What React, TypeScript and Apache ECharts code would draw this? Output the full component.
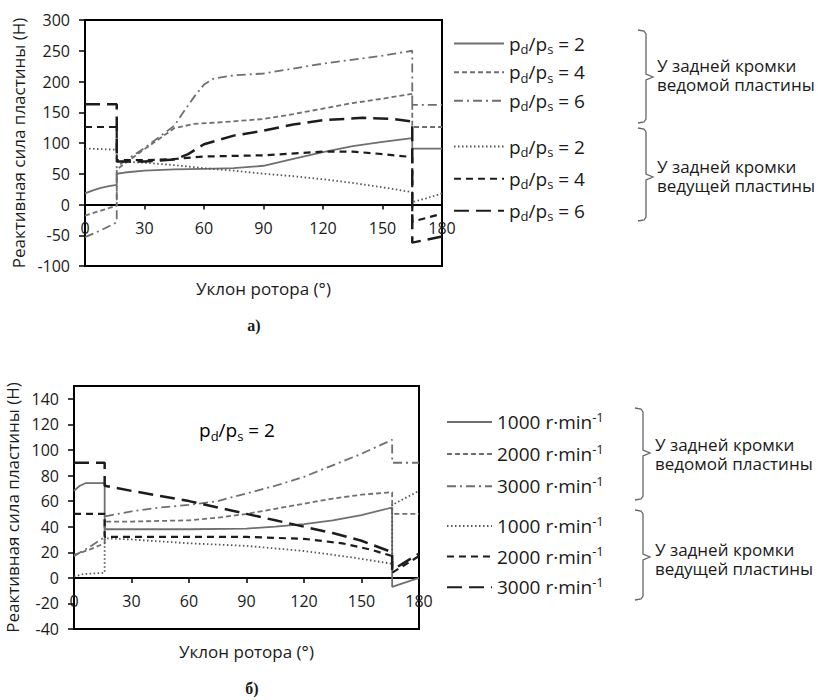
import React, { useEffect, useRef } from "react";
import * as echarts from "echarts";

// ---------- Data: chart а) (pd/ps varies) ----------
const xTicksA = [0, 30, 60, 90, 120, 150, 180];
const drivenA2: number[][] = [[0, 18], [4, 23], [8, 27], [12, 30], [16, 32], [16, 50], [20, 52], [30, 55], [45, 57], [60, 58], [75, 59], [90, 63], [105, 74], [120, 85], [135, 95], [150, 102], [165, 108], [165, 91], [180, 91]];
const drivenA4: number[][] = [[0, -18], [8, -10], [16, -2], [16, 57], [30, 90], [45, 124], [55, 131], [70, 134], [90, 139], [105, 147], [120, 156], [135, 165], [150, 172], [165, 180], [165, 126], [180, 126]];
const drivenA6: number[][] = [[0, -53], [8, -42], [16, -29], [16, 62], [30, 92], [45, 128], [50, 152], [55, 175], [60, 195], [65, 205], [75, 210], [90, 213], [120, 229], [150, 242], [165, 250], [165, 162], [180, 162]];
const drivingA2: number[][] = [[0, 91], [16, 89], [16, 70], [30, 68], [45, 64], [60, 59], [75, 55], [90, 50], [105, 46], [120, 41], [135, 35], [150, 28], [165, 20], [165, 4], [172, 10], [180, 18]];
const drivingA4: number[][] = [[0, 126], [16, 126], [16, 72], [30, 72], [45, 74], [60, 78], [90, 80], [120, 86], [135, 86], [150, 82], [165, 77], [165, -28], [180, -15]];
const drivingA6: number[][] = [[0, 163], [16, 163], [16, 70], [30, 70], [45, 73], [52, 82], [60, 98], [75, 112], [90, 120], [105, 130], [120, 137], [140, 141], [155, 139], [165, 135], [165, -62], [180, -52]];

// ---------- Data: chart б) (rotational speed varies, pd/ps = 2) ----------
const drivenB1000: number[][] = [[0, 68], [3, 72], [6, 74], [16, 74], [16, 38], [30, 38], [60, 38], [90, 38.5], [105, 40], [120, 42], [135, 45], [150, 49], [166, 55], [166, -7], [180, 0]];
const drivenB2000: number[][] = [[0, 18], [8, 22], [16, 27], [16, 44], [30, 44], [60, 45], [75, 47], [90, 50], [105, 54], [120, 58], [135, 62], [150, 65], [166, 67], [166, 50], [180, 50]];
const drivenB3000: number[][] = [[0, 17], [8, 24], [16, 32], [16, 48], [30, 52], [45, 55], [60, 57], [75, 60], [90, 66], [105, 72], [120, 79], [135, 88], [150, 97], [166, 108], [166, 90], [180, 90]];
const drivingB1000: number[][] = [[0, 1], [5, 3], [16, 4], [16, 31], [30, 30], [60, 27], [90, 25], [120, 21], [145, 16], [166, 11], [166, 57], [180, 68]];
const drivingB2000: number[][] = [[0, 50], [16, 50], [16, 32], [30, 32], [60, 32], [90, 32], [120, 30.5], [140, 27], [155, 22], [166, 17], [166, 4], [180, 17]];
const drivingB3000: number[][] = [[0, 90], [16, 90], [16, 72], [30, 68], [45, 64], [60, 60], [75, 55], [90, 50], [105, 45], [120, 40], [135, 35], [150, 29], [166, 20], [166, 6], [180, 19]];

const yTicksB = [-40, -20, 0, 20, 40, 60, 80, 100, 120, 140];
const ratiosA = ["2", "4", "6", "2", "4", "6"];
const speedsB = ["1000", "2000", "3000", "1000", "2000", "3000"];
const groupDriven = ["У задней кромки", "ведомой пластины"];
const groupDriving = ["У задней кромки", "ведущей пластины"];

const FONT = "'Open Sans', 'Noto Sans', sans-serif";
const GRAY = "#6f6f6f";
const DARK = "#1c1c1c";

const styles = [
  { color: GRAY, width: 1.8, type: "solid" as any },
  { color: GRAY, width: 1.8, type: [5, 3] },
  { color: GRAY, width: 1.8, type: [9, 4, 2, 4] },
  { color: "#555", width: 1.8, type: [1.5, 2.5] },
  { color: DARK, width: 2.2, type: [7, 5] },
  { color: DARK, width: 2.5, type: [15, 7] },
];

const richLegend = {
  m: { fontSize: 19, fontFamily: FONT, color: "#1a1a1a", lineHeight: 24, verticalAlign: "middle" },
  s: { fontSize: 13, fontFamily: FONT, color: "#1a1a1a", lineHeight: 24, verticalAlign: "bottom" },
  u: { fontSize: 13, fontFamily: FONT, color: "#1a1a1a", lineHeight: 24, verticalAlign: "top" },
};

const ratioText = (r: string) => `{m|p}{s|d}{m|/p}{s|s}{m| = ${r}}`;
const speedText = (s: string) => `{m|${s} r·min}{u|-1}`;

export default function App() {
  const ref = useRef<HTMLDivElement>(null);
  useEffect(() => {
    if (!ref.current) return;
    const chart = echarts.init(ref.current, undefined, { renderer: "svg" });
    const dataA = [drivenA2, drivenA4, drivenA6, drivingA2, drivingA4, drivingA6];
    const dataB = [drivenB1000, drivenB2000, drivenB3000, drivingB1000, drivingB2000, drivingB3000];
    const namesA = ratiosA.map((r, i) => `a${i}_${r}`);
    const namesB = speedsB.map((s, i) => `b${i}_${s}`);
    const series: any[] = [];
    dataA.forEach((d, i) => {
      series.push({
        name: namesA[i], type: "line", xAxisIndex: 0, yAxisIndex: 0, data: d,
        showSymbol: false, symbol: "none", itemStyle: { color: styles[i].color },
        lineStyle: { ...styles[i], cap: "butt" }, z: 3,
      });
    });
    dataB.forEach((d, i) => {
      series.push({
        name: namesB[i], type: "line", xAxisIndex: 1, yAxisIndex: 1, data: d,
        showSymbol: false, symbol: "none", itemStyle: { color: styles[i].color },
        lineStyle: { ...styles[i], cap: "butt" }, z: 3,
      });
    });
    const fmt = (name: string) => {
      const idx = namesA.indexOf(name);
      if (idx >= 0) return ratioText(ratiosA[idx]);
      const j = namesB.indexOf(name);
      return speedText(speedsB[j]);
    };
    const legendBase = {
      orient: "vertical", selectedMode: false, formatter: fmt,
      textStyle: { rich: richLegend }, padding: 0,
      itemStyle: { opacity: 0, borderWidth: 0 },
    };
    const xAxisCommon = (nameGap: number, offset: number) => ({
      type: "value", min: 0, max: 180, interval: 30, offset,
      axisLine: { onZero: false, lineStyle: { color: "#000", width: 2 } },
      axisTick: { show: true, length: 5, inside: false, lineStyle: { color: "#000", width: 1.5 }, customValues: xTicksA },
      axisLabel: { margin: 15, fontSize: 16, color: "#1a1a1a", fontFamily: FONT, customValues: xTicksA },
      splitLine: { show: false },
      name: "Уклон ротора (°)", nameLocation: "middle", nameGap,
      nameTextStyle: { fontSize: 17, color: "#1a1a1a", fontFamily: FONT, verticalAlign: "top" },
    });
    const bracket = (x: number, top: number, bottom: number, mid: number) => ({
      type: "polyline", silent: true,
      shape: { points: [[x - 8, top], [x - 2, top + 1], [x, top + 4], [x, mid - 3], [x + 7, mid], [x, mid + 3], [x, bottom - 4], [x - 2, bottom - 1], [x - 8, bottom]] },
      style: { stroke: "#666", lineWidth: 1.3, fill: null },
    });
    const groupLabel = (x: number, y: number, lines: string[]) =>
      lines.map((t, k) => ({
        type: "text", silent: true, x, y: y + (k - 0.5) * 18.5,
        style: { text: t, fontSize: 17, fontFamily: FONT, fill: "#1a1a1a", verticalAlign: "middle", align: "left" },
      }));
    chart.setOption({
      animation: false,
      backgroundColor: "#fff",
      grid: [
        { left: 85, top: 20, width: 357, height: 246, show: true, borderColor: "#000", borderWidth: 2, containLabel: false },
        { left: 74, top: 386, width: 345, height: 243, show: true, borderColor: "#000", borderWidth: 2, containLabel: false },
      ],
      xAxis: [
        // offset lifts the axis from the grid bottom (-100 / -40) to the zero line
        { ...xAxisCommon(75, -61.5), gridIndex: 0 },
        { ...xAxisCommon(65, -51.1), gridIndex: 1 },
      ],
      yAxis: [
        {
          type: "value", gridIndex: 0, min: -100, max: 300, interval: 50,
          axisLine: { show: true, onZero: false, lineStyle: { color: "#000", width: 2 } },
          axisTick: { show: true, length: 6, lineStyle: { color: "#000", width: 1.5 } },
          axisLabel: { margin: 15, fontSize: 16, color: "#1a1a1a", fontFamily: FONT },
          splitLine: { show: false },
          name: "Реактивная сила пластины (Н)", nameLocation: "middle", nameGap: 58,
          nameTextStyle: { fontSize: 17, color: "#1a1a1a", fontFamily: FONT },
        },
        {
          type: "value", gridIndex: 1, min: -40, max: 150, interval: 10,
          axisLine: { show: true, onZero: false, lineStyle: { color: "#000", width: 2 } },
          axisTick: { show: true, length: 6, lineStyle: { color: "#000", width: 1.5 }, customValues: yTicksB },
          axisLabel: { margin: 15, fontSize: 16, color: "#1a1a1a", fontFamily: FONT, customValues: yTicksB },
          splitLine: { show: false },
          name: "Реактивная сила пластины (Н)", nameLocation: "middle", nameGap: 53,
          nameTextStyle: { fontSize: 17, color: "#1a1a1a", fontFamily: FONT },
        },
      ],
      legend: [
        { ...legendBase, data: namesA.slice(0, 3), left: 453, top: 34, itemWidth: 50, itemHeight: 24, itemGap: 7 },
        { ...legendBase, data: namesA.slice(3), left: 453, top: 137, itemWidth: 50, itemHeight: 24, itemGap: 10.5 },
        { ...legendBase, data: namesB.slice(0, 3), left: 446, top: 410, itemWidth: 45, itemHeight: 24, itemGap: 10.5 },
        { ...legendBase, data: namesB.slice(3), left: 446, top: 514, itemWidth: 45, itemHeight: 24, itemGap: 9 },
      ],
      graphic: [
        bracket(646, 30, 123, 77),
        bracket(646, 128, 221, 177),
        ...groupLabel(657, 75, groupDriven),
        ...groupLabel(657, 176, groupDriving),
        bracket(643, 408, 500, 453),
        bracket(643, 510, 600, 557),
        ...groupLabel(655, 454, groupDriven),
        ...groupLabel(655, 559, groupDriving),
        {
          type: "text", silent: true, x: 237, y: 430,
          style: { text: ratioText("2"), rich: richLegend, align: "center", verticalAlign: "middle" },
        },
        {
          type: "text", silent: true, x: 254, y: 325,
          style: { text: "а)", fontSize: 16, fontWeight: "bold", fontFamily: "'Liberation Serif', 'DejaVu Serif', serif", fill: "#1a1a1a", align: "center", verticalAlign: "middle" },
        },
        {
          type: "text", silent: true, x: 252, y: 688,
          style: { text: "б)", fontSize: 16, fontWeight: "bold", fontFamily: "'Liberation Serif', 'DejaVu Serif', serif", fill: "#1a1a1a", align: "center", verticalAlign: "middle" },
        },
      ],
      series,
    });
    return () => chart.dispose();
  }, []);
  return <div ref={ref} style={{ position: "absolute", left: 0, top: 0, width: 818, height: 700, background: "#fff" }} />;
}
